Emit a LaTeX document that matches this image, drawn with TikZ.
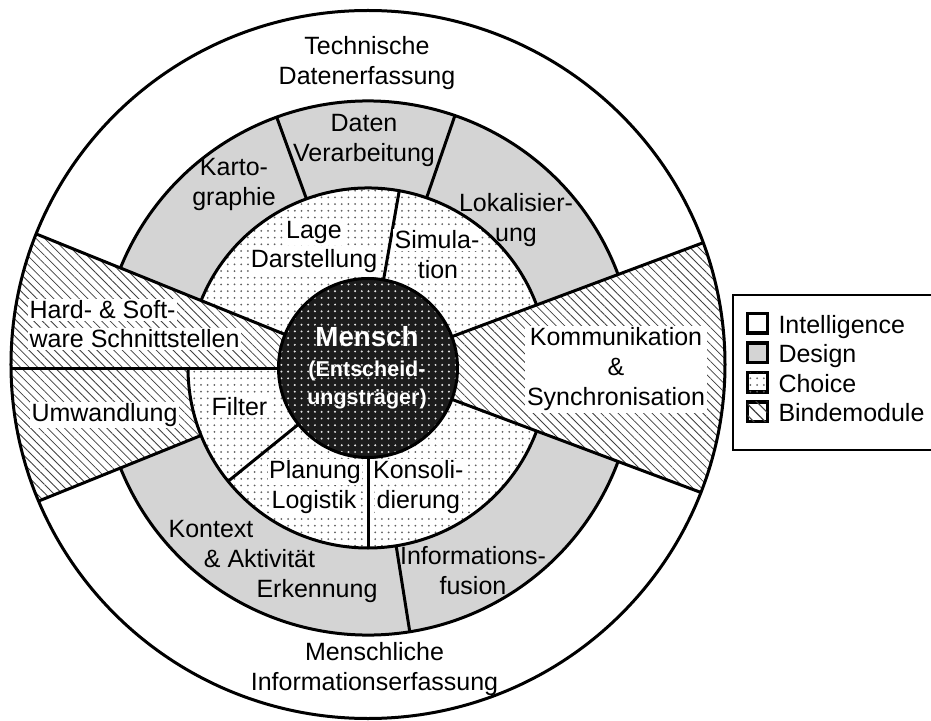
\documentclass[tikz,border=0pt]{standalone}
\usepackage{fontspec}
\setmainfont{Liberation Sans}
\usetikzlibrary{patterns.meta}

\definecolor{designgray}{gray}{0.83}
\definecolor{inkdark}{gray}{0.11}
\definecolor{dotgray}{gray}{0.38}
\definecolor{dotlight}{gray}{0.90}
\definecolor{hatchgray}{gray}{0.25}

% ring radii (pt), centre of the wheel is the origin
\def\Rm{89.5}
\def\Rc{180}
\def\Rd{267}

\begin{document}
\begin{tikzpicture}[x=1pt, y=1pt,
  ringline/.style={line width=3pt, line join=round},
  txt/.style={font=\fontsize{25}{30}\selectfont, inner sep=0pt, align=center},
  boxed/.style={txt, fill=white, inner sep=1.5pt},
  bold/.style={font=\bfseries\fontsize{21.5}{28}\selectfont, text=white, inner sep=0pt},
  designfill/.style={fill=designgray},
  choicefill/.style={fill=white, postaction={pattern={Dots[radius=1pt, distance=6.7pt]}, pattern color=dotgray}},
  bindefill/.style={fill=white, postaction={pattern={Lines[angle=-45, distance=6pt, line width=0.8pt]}, pattern color=hatchgray}},
  menschfill/.style={fill=inkdark, postaction={pattern={Dots[radius=1.1pt, distance=6.7pt]}, pattern color=dotlight}},
  legsq/.style={draw, line width=3.5pt, minimum size=19.8pt, inner sep=0pt},
  legtxt/.style={font=\fontsize{25}{30}\selectfont, inner sep=0pt, anchor=base west}
]
\useasboundingbox (-368,-352) rectangle (563,368);

% ---- filled areas ----
\fill[white] (0,3.5) ellipse [x radius=357, y radius=354];
\fill[designfill] (0,0) circle [radius=\Rd];
\path[choicefill] (0,0) circle [radius=\Rc];

\begin{scope}
  \clip (0,3.5) ellipse [x radius=357, y radius=354];
  % binding modules
  \path[bindefill] (0,0) -- (158:420) -- (180:420) -- cycle;
  \path[bindefill] (0,0) -- (-20.5:420) -- (20.5:420) -- cycle;
  \path[bindefill] (180:\Rc) arc [start angle=180, end angle=202, radius=\Rc]
                   -- (202:420) -- (180:420) -- cycle;
  % wedge borders
  \draw[ringline] (158:\Rm) -- (158:420);
  \draw[ringline] (180:\Rm) -- (180:420);
  \draw[ringline] (202:\Rc) -- (202:420);
  \draw[ringline] (20.5:\Rm) -- (20.5:420);
  \draw[ringline] (-20.5:\Rm) -- (-20.5:420);
\end{scope}

\path[menschfill] (0,0) circle [radius=\Rm];

% ---- ring borders ----
\draw[ringline] (20.5:\Rd) arc [start angle=20.5, end angle=158, radius=\Rd];
\draw[ringline] (202:\Rd) arc [start angle=202, end angle=339.5, radius=\Rd];
\draw[ringline] (20.5:\Rc) arc [start angle=20.5, end angle=158, radius=\Rc];
\draw[ringline] (180:\Rc) arc [start angle=180, end angle=339.5, radius=\Rc];

% design sectors
\draw[ringline] (110:\Rc) -- (110:\Rd);
\draw[ringline] (71:\Rc) -- (71:\Rd);
\draw[ringline] (-81:\Rc) -- (-81:\Rd);
% choice sectors
\draw[ringline] (80:\Rm) -- (80:\Rc);
\draw[ringline] (-90:\Rm) -- (-90:\Rc);
\draw[ringline] (219:\Rm) -- (219:\Rc);

\draw[ringline] (0,0) circle [radius=\Rm];
\draw[ringline] (0,3.5) ellipse [x radius=357, y radius=354];

% ---- labels: intelligence ring ----
\node[txt] (tech) at (-1,304.5) {Technische\\Datenerfassung};
\node[txt] (human) at (6.5,-301.5) {Menschliche\\Informationserfassung};

% ---- labels: design ring ----
\node[txt] (karto) at (-134,183.5) {Karto-\\graphie};
\node[txt] (daten) at (-4,227.8) {Daten\\Verarbeitung};
\node[txt] (lokal) at (148,148) {Lokalisier-\\ung};
\node[txt] (fusion) at (105,-203) {Informations-\\fusion};
\node[txt, anchor=base] (ctxa) at (-157,-169) {Kontext};
\node[txt, anchor=base] (ctxb) at (-108.5,-199) {\& Aktivität};
\node[txt, anchor=base] (ctxc) at (-51,-229) {Erkennung};

% ---- labels: choice ring ----
\node[boxed, anchor=base] (lagea) at (-54,129.5) {Lage};
\node[boxed, anchor=base] (lageb) at (-54,100) {Darstellung};
\node[boxed, anchor=base] (sima) at (69,119) {Simula-};
\node[boxed, anchor=base] (simb) at (70,89) {tion};
\node[boxed, anchor=base] (filter) at (-128.5,-47) {Filter};
\node[boxed, anchor=base] (plana) at (-53,-110.3) {Planung};
\node[boxed, anchor=base] (planb) at (-54,-140.3) {Logistik};
\node[boxed, anchor=base] (konsa) at (50.3,-110.3) {Konsoli-};
\node[boxed, anchor=base] (konsb) at (50.3,-140.3) {dierung};

% ---- labels: binding modules ----
\node[boxed, anchor=base west] (hwa) at (-340,49) {Hard- \& Soft-};
\node[boxed, anchor=base west] (hwb) at (-340,20) {ware Schnittstellen};
\node[boxed, anchor=base] (umw) at (-263.5,-53.7) {Umwandlung};
\node[boxed, inner sep=2pt] (komm) at (248,-1.4) {Kommunikation\\\&\\Synchronisation};

% ---- centre ----
\node[bold, font=\bfseries\fontsize{27.7}{32}\selectfont, anchor=base] (mensch) at (-1,21.4) {Mensch};
\node[bold, anchor=base] (entsa) at (-1,-8.5) {(Entscheid-};
\node[bold, anchor=base] (entsb) at (-1,-36) {ungsträger)};

% ---- legend ----
\draw[line width=2pt] (365,73) rectangle (575,-82);
\node[legsq, fill=white] (legI) at (389.4,44.7) {};
\node[legsq, designfill] (legD) at (389.4,15.2) {};
\node[legsq, fill=white, postaction={pattern={Dots[radius=1pt, distance=6.7pt]}, pattern color=dotgray}] (legC) at (389.4,-14.3) {};
\node[legsq, fill=white, postaction={pattern={Lines[angle=-45, distance=8pt, line width=1.1pt]}, pattern color=hatchgray}] (legB) at (389.4,-43.8) {};
\node[legtxt] (legIt) at (410.3,34.7) {Intelligence};
\node[legtxt] (legDt) at (410.3,5.2) {Design};
\node[legtxt] (legCt) at (410.3,-24.3) {Choice};
\node[legtxt] (legBt) at (410.3,-53.8) {Bindemodule};
\end{tikzpicture}
\end{document}
